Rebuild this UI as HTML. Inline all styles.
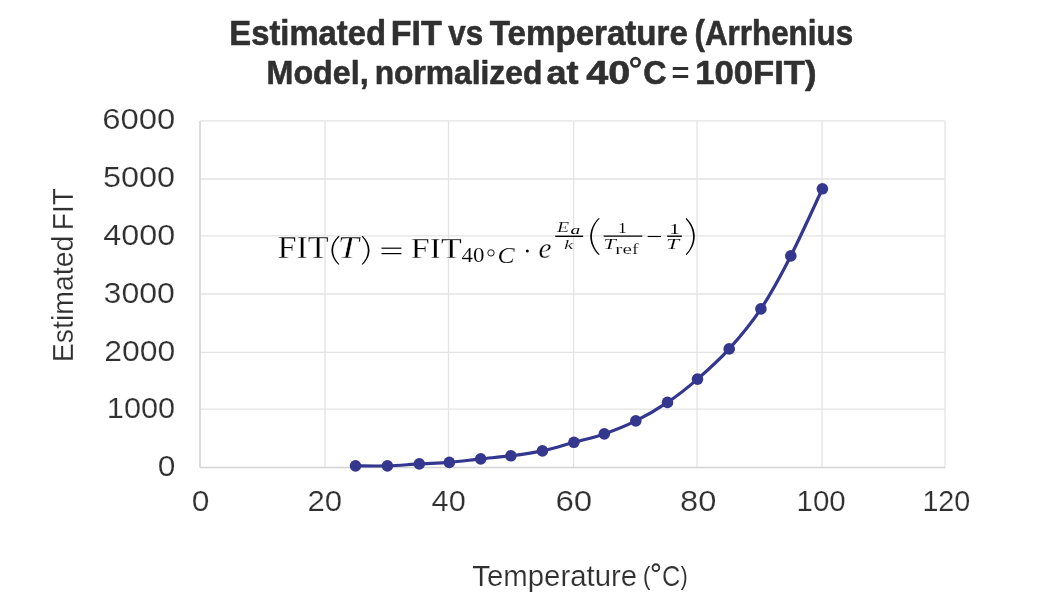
<!DOCTYPE html><html><head><meta charset="utf-8"><style>html,body{margin:0;padding:0;background:#fff;}svg{display:block;will-change:transform}</style></head><body>
<svg width="1047" height="613" viewBox="0 0 1047 613">
<rect width="1047" height="613" fill="#fff"/>
<line x1="200.00" y1="409.05" x2="945.00" y2="409.05" stroke="#e3e3e3" stroke-width="1.3"/>
<line x1="200.00" y1="352.40" x2="945.00" y2="352.40" stroke="#e3e3e3" stroke-width="1.3"/>
<line x1="200.00" y1="294.00" x2="945.00" y2="294.00" stroke="#e3e3e3" stroke-width="1.3"/>
<line x1="200.00" y1="235.80" x2="945.00" y2="235.80" stroke="#e3e3e3" stroke-width="1.3"/>
<line x1="200.00" y1="179.00" x2="945.00" y2="179.00" stroke="#e3e3e3" stroke-width="1.3"/>
<line x1="200.00" y1="120.90" x2="945.00" y2="120.90" stroke="#e3e3e3" stroke-width="1.3"/>
<line x1="200.00" y1="120.90" x2="200.00" y2="467.50" stroke="#d4d4d4" stroke-width="1.6"/>
<line x1="325.00" y1="120.90" x2="325.00" y2="467.50" stroke="#e3e3e3" stroke-width="1.3"/>
<line x1="448.50" y1="120.90" x2="448.50" y2="467.50" stroke="#e3e3e3" stroke-width="1.3"/>
<line x1="573.60" y1="120.90" x2="573.60" y2="467.50" stroke="#e3e3e3" stroke-width="1.3"/>
<line x1="697.00" y1="120.90" x2="697.00" y2="467.50" stroke="#e3e3e3" stroke-width="1.3"/>
<line x1="822.00" y1="120.90" x2="822.00" y2="467.50" stroke="#e3e3e3" stroke-width="1.3"/>
<line x1="945.00" y1="120.90" x2="945.00" y2="467.50" stroke="#e3e3e3" stroke-width="1.3"/>
<line x1="200.00" y1="467.50" x2="945.00" y2="467.50" stroke="#d4d4d4" stroke-width="1.6"/>
<text transform="translate(229.37,45.00) scale(0.9627,1.0209)" x="0" y="0" font-family="&quot;Liberation Sans&quot;, sans-serif" font-size="34.06" font-weight="bold" font-style="normal" fill="#303030" stroke="#303030" stroke-width="0.60" stroke-linejoin="round" xml:space="preserve">Estimated</text>
<text transform="translate(390.72,45.00) scale(0.9979,1.0209)" x="0" y="0" font-family="&quot;Liberation Sans&quot;, sans-serif" font-size="34.06" font-weight="bold" font-style="normal" fill="#303030" stroke="#303030" stroke-width="0.60" stroke-linejoin="round" xml:space="preserve">FIT</text>
<text transform="translate(448.31,45.00) scale(0.9207,1.0209)" x="0" y="0" font-family="&quot;Liberation Sans&quot;, sans-serif" font-size="34.06" font-weight="bold" font-style="normal" fill="#303030" stroke="#303030" stroke-width="0.60" stroke-linejoin="round" xml:space="preserve">vs</text>
<text transform="translate(489.83,45.00) scale(0.9722,1.0209)" x="0" y="0" font-family="&quot;Liberation Sans&quot;, sans-serif" font-size="34.06" font-weight="bold" font-style="normal" fill="#303030" stroke="#303030" stroke-width="0.60" stroke-linejoin="round" xml:space="preserve">Temperature</text>
<text transform="translate(694.47,45.00) scale(0.9214,1.0209)" x="0" y="0" font-family="&quot;Liberation Sans&quot;, sans-serif" font-size="34.06" font-weight="bold" font-style="normal" fill="#303030" stroke="#303030" stroke-width="0.60" stroke-linejoin="round" xml:space="preserve">(Arrhenius</text>
<text transform="translate(266.58,83.50) scale(0.9592,1.0119)" x="0" y="0" font-family="&quot;Liberation Sans&quot;, sans-serif" font-size="33.62" font-weight="bold" font-style="normal" fill="#303030" stroke="#303030" stroke-width="0.60" stroke-linejoin="round" xml:space="preserve">Model,</text>
<text transform="translate(374.63,83.50) scale(0.9449,1.0119)" x="0" y="0" font-family="&quot;Liberation Sans&quot;, sans-serif" font-size="33.62" font-weight="bold" font-style="normal" fill="#303030" stroke="#303030" stroke-width="0.60" stroke-linejoin="round" xml:space="preserve">normalized</text>
<text transform="translate(546.54,83.50) scale(1.0708,1.0119)" x="0" y="0" font-family="&quot;Liberation Sans&quot;, sans-serif" font-size="33.62" font-weight="bold" font-style="normal" fill="#303030" stroke="#303030" stroke-width="0.60" stroke-linejoin="round" xml:space="preserve">at</text>
<text transform="translate(586.16,83.50) scale(1.1760,1.0119)" x="0" y="0" font-family="&quot;Liberation Sans&quot;, sans-serif" font-size="33.62" font-weight="bold" font-style="normal" fill="#303030" stroke="#303030" stroke-width="0.60" stroke-linejoin="round" xml:space="preserve">40</text>
<text transform="translate(643.33,83.50) scale(0.9587,1.0119)" x="0" y="0" font-family="&quot;Liberation Sans&quot;, sans-serif" font-size="33.62" font-weight="bold" font-style="normal" fill="#303030" stroke="#303030" stroke-width="0.60" stroke-linejoin="round" xml:space="preserve">C</text>
<text transform="translate(695.24,83.50) scale(1.0303,1.0119)" x="0" y="0" font-family="&quot;Liberation Sans&quot;, sans-serif" font-size="33.62" font-weight="bold" font-style="normal" fill="#303030" stroke="#303030" stroke-width="0.60" stroke-linejoin="round" xml:space="preserve">100FIT)</text>
<text transform="translate(671.45,82.25) scale(1.9420,1.7281)" x="0" y="0" font-family="&quot;Liberation Sans&quot;, sans-serif" font-size="15.80" font-weight="bold" font-style="normal" fill="#303030" xml:space="preserve">=</text>
<text transform="translate(102.15,129.20) scale(1.1353,1.0450)" x="0" y="0" font-family="&quot;Liberation Sans&quot;, sans-serif" font-size="28.99" font-weight="normal" font-style="normal" fill="#303030" stroke="#fff" stroke-width="0.20" xml:space="preserve">6000</text>
<text transform="translate(102.97,187.20) scale(1.1188,1.0450)" x="0" y="0" font-family="&quot;Liberation Sans&quot;, sans-serif" font-size="28.99" font-weight="normal" font-style="normal" fill="#303030" stroke="#fff" stroke-width="0.20" xml:space="preserve">5000</text>
<text transform="translate(103.35,245.20) scale(1.1160,1.0450)" x="0" y="0" font-family="&quot;Liberation Sans&quot;, sans-serif" font-size="28.99" font-weight="normal" font-style="normal" fill="#303030" stroke="#fff" stroke-width="0.20" xml:space="preserve">4000</text>
<text transform="translate(103.54,303.20) scale(1.1076,1.0450)" x="0" y="0" font-family="&quot;Liberation Sans&quot;, sans-serif" font-size="28.99" font-weight="normal" font-style="normal" fill="#303030" stroke="#fff" stroke-width="0.20" xml:space="preserve">3000</text>
<text transform="translate(104.16,361.20) scale(1.1020,1.0450)" x="0" y="0" font-family="&quot;Liberation Sans&quot;, sans-serif" font-size="28.99" font-weight="normal" font-style="normal" fill="#303030" stroke="#fff" stroke-width="0.20" xml:space="preserve">2000</text>
<text transform="translate(106.82,418.20) scale(1.0598,1.0450)" x="0" y="0" font-family="&quot;Liberation Sans&quot;, sans-serif" font-size="28.99" font-weight="normal" font-style="normal" fill="#303030" stroke="#fff" stroke-width="0.20" xml:space="preserve">1000</text>
<text transform="translate(157.65,476.20) scale(1.0947,1.0450)" x="0" y="0" font-family="&quot;Liberation Sans&quot;, sans-serif" font-size="28.99" font-weight="normal" font-style="normal" fill="#303030" stroke="#fff" stroke-width="0.20" xml:space="preserve">0</text>
<text transform="translate(191.65,511.20) scale(1.0947,1.0450)" x="0" y="0" font-family="&quot;Liberation Sans&quot;, sans-serif" font-size="28.99" font-weight="normal" font-style="normal" fill="#303030" stroke="#fff" stroke-width="0.20" xml:space="preserve">0</text>
<text transform="translate(307.39,511.20) scale(1.0739,1.0450)" x="0" y="0" font-family="&quot;Liberation Sans&quot;, sans-serif" font-size="28.99" font-weight="normal" font-style="normal" fill="#303030" stroke="#fff" stroke-width="0.20" xml:space="preserve">20</text>
<text transform="translate(431.62,511.20) scale(1.0584,1.0450)" x="0" y="0" font-family="&quot;Liberation Sans&quot;, sans-serif" font-size="28.99" font-weight="normal" font-style="normal" fill="#303030" stroke="#fff" stroke-width="0.20" xml:space="preserve">40</text>
<text transform="translate(555.39,511.20) scale(1.1409,1.0450)" x="0" y="0" font-family="&quot;Liberation Sans&quot;, sans-serif" font-size="28.99" font-weight="normal" font-style="normal" fill="#303030" stroke="#fff" stroke-width="0.20" xml:space="preserve">60</text>
<text transform="translate(680.06,511.20) scale(1.1268,1.0450)" x="0" y="0" font-family="&quot;Liberation Sans&quot;, sans-serif" font-size="28.99" font-weight="normal" font-style="normal" fill="#303030" stroke="#fff" stroke-width="0.20" xml:space="preserve">80</text>
<text transform="translate(796.55,511.20) scale(1.0175,1.0450)" x="0" y="0" font-family="&quot;Liberation Sans&quot;, sans-serif" font-size="28.99" font-weight="normal" font-style="normal" fill="#303030" stroke="#fff" stroke-width="0.20" xml:space="preserve">100</text>
<text transform="translate(922.39,511.20) scale(0.9917,1.0450)" x="0" y="0" font-family="&quot;Liberation Sans&quot;, sans-serif" font-size="28.99" font-weight="normal" font-style="normal" fill="#303030" stroke="#fff" stroke-width="0.20" xml:space="preserve">120</text>
<text transform="translate(73.20,362.22) rotate(-90) scale(0.9917,1.0113)" x="0" y="0" font-family="&quot;Liberation Sans&quot;, sans-serif" font-size="28.70" font-weight="normal" font-style="normal" fill="#303030" stroke="#fff" stroke-width="0.20" xml:space="preserve">Estimated</text>
<text transform="translate(73.20,229.90) rotate(-90) scale(0.9693,1.0113)" x="0" y="0" font-family="&quot;Liberation Sans&quot;, sans-serif" font-size="28.70" font-weight="normal" font-style="normal" fill="#303030" stroke="#fff" stroke-width="0.20" xml:space="preserve">FIT</text>
<text transform="translate(472.30,586.00) scale(1.0233,1.0112)" x="0" y="0" font-family="&quot;Liberation Sans&quot;, sans-serif" font-size="28.70" font-weight="normal" font-style="normal" fill="#303030" stroke="#fff" stroke-width="0.20" xml:space="preserve">Temperature</text>
<text transform="translate(642.96,584.88) scale(0.6287,0.7280)" x="0" y="0" font-family="&quot;Liberation Sans&quot;, sans-serif" font-size="35.22" font-weight="normal" font-style="normal" fill="#303030" xml:space="preserve">(</text>
<text transform="translate(662.11,586.00) scale(0.8846,1.0112)" x="0" y="0" font-family="&quot;Liberation Sans&quot;, sans-serif" font-size="28.70" font-weight="normal" font-style="normal" fill="#303030" stroke="#fff" stroke-width="0.20" xml:space="preserve">C</text>
<text transform="translate(680.82,584.92) scale(0.5861,0.7303)" x="0" y="0" font-family="&quot;Liberation Sans&quot;, sans-serif" font-size="35.22" font-weight="normal" font-style="normal" fill="#303030" xml:space="preserve">)</text>
<text transform="translate(277.41,258.24) scale(1.1674,1.0701)" x="0" y="0" font-family="&quot;Liberation Serif&quot;, serif" font-size="29.28" font-weight="normal" font-style="normal" fill="#000" stroke="#fff" stroke-width="0.30" xml:space="preserve">FIT</text>
<text transform="translate(337.62,258.24) scale(1.3529,1.0897)" x="0" y="0" font-family="&quot;Liberation Serif&quot;, serif" font-size="28.26" font-weight="normal" font-style="italic" fill="#000" stroke="#fff" stroke-width="0.40" xml:space="preserve">T</text>
<text transform="translate(410.82,258.24) scale(1.1794,1.0546)" x="0" y="0" font-family="&quot;Liberation Serif&quot;, serif" font-size="28.77" font-weight="normal" font-style="normal" fill="#000" stroke="#fff" stroke-width="0.30" xml:space="preserve">FIT</text>
<text transform="translate(461.54,261.83) scale(1.1564,1.0695)" x="0" y="0" font-family="&quot;Liberation Serif&quot;, serif" font-size="19.86" font-weight="normal" font-style="normal" fill="#000" stroke="#fff" stroke-width="0.10" xml:space="preserve">40</text>
<text transform="translate(497.60,262.70) scale(1.2422,1.0891)" x="0" y="0" font-family="&quot;Liberation Serif&quot;, serif" font-size="20.72" font-weight="normal" font-style="italic" fill="#000" stroke="#fff" stroke-width="0.15" xml:space="preserve">C</text>
<text transform="translate(538.62,257.75) scale(1.5412,1.5410)" x="0" y="0" font-family="&quot;Liberation Serif&quot;, serif" font-size="19.13" font-weight="normal" font-style="italic" fill="#000" stroke="#fff" stroke-width="0.20" xml:space="preserve">e</text>
<text transform="translate(556.90,231.76) scale(1.4258,1.0172)" x="0" y="0" font-family="&quot;Liberation Serif&quot;, serif" font-size="13.91" font-weight="normal" font-style="italic" fill="#000" stroke="#fff" stroke-width="0.15" xml:space="preserve">E</text>
<text transform="translate(570.61,234.34) scale(2.4427,1.4523)" x="0" y="0" font-family="&quot;Liberation Serif&quot;, serif" font-size="7.97" font-weight="normal" font-style="italic" fill="#000" xml:space="preserve">a</text>
<text transform="translate(564.09,249.32) scale(1.5817,1.0090)" x="0" y="0" font-family="&quot;Liberation Serif&quot;, serif" font-size="13.19" font-weight="normal" font-style="italic" fill="#000" stroke="#fff" stroke-width="0.15" xml:space="preserve">k</text>
<text transform="translate(618.23,233.31) scale(1.1466,1.0750)" x="0" y="0" font-family="&quot;Liberation Serif&quot;, serif" font-size="14.49" font-weight="normal" font-style="normal" fill="#000" xml:space="preserve">1</text>
<text transform="translate(603.27,249.31) scale(1.5846,1.0206)" x="0" y="0" font-family="&quot;Liberation Serif&quot;, serif" font-size="14.35" font-weight="normal" font-style="italic" fill="#000" stroke="#fff" stroke-width="0.15" xml:space="preserve">T</text>
<text transform="translate(615.28,254.02) scale(1.4885,1.0389)" x="0" y="0" font-family="&quot;Liberation Serif&quot;, serif" font-size="14.35" font-weight="normal" font-style="normal" fill="#000" stroke="#fff" stroke-width="0.15" xml:space="preserve">ref</text>
<text transform="translate(669.41,234.07) scale(1.4069,1.0035)" x="0" y="0" font-family="&quot;Liberation Serif&quot;, serif" font-size="14.49" font-weight="normal" font-style="normal" fill="#000" xml:space="preserve">1</text>
<text transform="translate(666.00,249.16) scale(1.6483,1.0086)" x="0" y="0" font-family="&quot;Liberation Serif&quot;, serif" font-size="14.35" font-weight="normal" font-style="italic" fill="#000" stroke="#fff" stroke-width="0.15" xml:space="preserve">T</text>
<line x1="381.50" y1="248.20" x2="401.40" y2="248.20" stroke="#000" stroke-width="1.20"/>
<line x1="381.50" y1="253.60" x2="401.40" y2="253.60" stroke="#000" stroke-width="1.20"/>
<line x1="555.20" y1="236.30" x2="583.10" y2="236.30" stroke="#000" stroke-width="1.40"/>
<line x1="603.70" y1="236.10" x2="642.30" y2="236.10" stroke="#000" stroke-width="1.40"/>
<line x1="647.70" y1="236.50" x2="660.90" y2="236.50" stroke="#000" stroke-width="1.10"/>
<line x1="667.20" y1="236.20" x2="681.90" y2="236.20" stroke="#000" stroke-width="1.40"/>
<path d="M338.60,235.80 C329.00,244.50 329.00,256.10 338.60,264.80 L339.50,264.20 C330.97,256.10 330.97,244.50 339.50,236.40 Z" fill="#000"/>
<path d="M362.60,235.80 C371.80,244.50 371.80,256.10 362.60,264.80 L361.70,264.20 C369.83,256.10 369.83,244.50 361.70,236.40 Z" fill="#000"/>
<path d="M598.80,218.00 C587.47,229.10 587.47,243.90 598.80,255.00 L599.70,254.40 C589.43,243.90 589.43,229.10 599.70,218.60 Z" fill="#000"/>
<path d="M686.50,218.10 C697.57,229.23 697.57,244.07 686.50,255.20 L685.60,254.60 C695.60,244.07 695.60,229.23 685.60,218.70 Z" fill="#000"/>
<circle cx="527.30" cy="251.00" r="1.50" fill="#000"/>
<path d="M355.50,465.85 C360.82,465.86 376.77,466.22 387.40,465.90 C398.03,465.57 408.98,464.48 419.30,463.90 C429.62,463.32 439.07,463.23 449.30,462.40 C459.53,461.57 470.43,460.00 480.70,458.90 C490.97,457.80 500.62,457.13 510.90,455.80 C521.18,454.47 531.90,453.15 542.40,450.90 C552.90,448.65 563.58,445.13 573.90,442.30 C584.22,439.47 593.98,437.47 604.30,433.90 C614.62,430.33 625.27,426.15 635.80,420.90 C646.33,415.65 657.22,409.37 667.50,402.40 C677.78,395.43 687.22,388.02 697.50,379.10 C707.78,370.18 718.63,360.60 729.20,348.90 C739.77,337.20 750.63,324.40 760.90,308.90 C771.17,293.40 780.55,275.92 790.80,255.90 C801.05,235.88 817.13,199.98 822.40,188.80" fill="none" stroke="#33378e" stroke-width="3.2" stroke-linejoin="round" stroke-linecap="round"/>
<circle cx="355.50" cy="465.85" r="5.8" fill="#33378e"/>
<circle cx="387.40" cy="465.90" r="5.8" fill="#33378e"/>
<circle cx="419.30" cy="463.90" r="5.8" fill="#33378e"/>
<circle cx="449.30" cy="462.40" r="5.8" fill="#33378e"/>
<circle cx="480.70" cy="458.90" r="5.8" fill="#33378e"/>
<circle cx="510.90" cy="455.80" r="5.8" fill="#33378e"/>
<circle cx="542.40" cy="450.90" r="5.8" fill="#33378e"/>
<circle cx="573.90" cy="442.30" r="5.8" fill="#33378e"/>
<circle cx="604.30" cy="433.90" r="5.8" fill="#33378e"/>
<circle cx="635.80" cy="420.90" r="5.8" fill="#33378e"/>
<circle cx="667.50" cy="402.40" r="5.8" fill="#33378e"/>
<circle cx="697.50" cy="379.10" r="5.8" fill="#33378e"/>
<circle cx="729.20" cy="348.90" r="5.8" fill="#33378e"/>
<circle cx="760.90" cy="308.90" r="5.8" fill="#33378e"/>
<circle cx="790.80" cy="255.90" r="5.8" fill="#33378e"/>
<circle cx="822.40" cy="188.80" r="5.8" fill="#33378e"/>
<circle cx="491.00" cy="252.90" r="3.20" fill="none" stroke="#000" stroke-width="0.90"/><circle cx="635.50" cy="62.30" r="4.15" fill="none" stroke="#303030" stroke-width="2.70"/><circle cx="655.90" cy="567.65" r="3.40" fill="none" stroke="#303030" stroke-width="1.80"/></svg></body></html>
